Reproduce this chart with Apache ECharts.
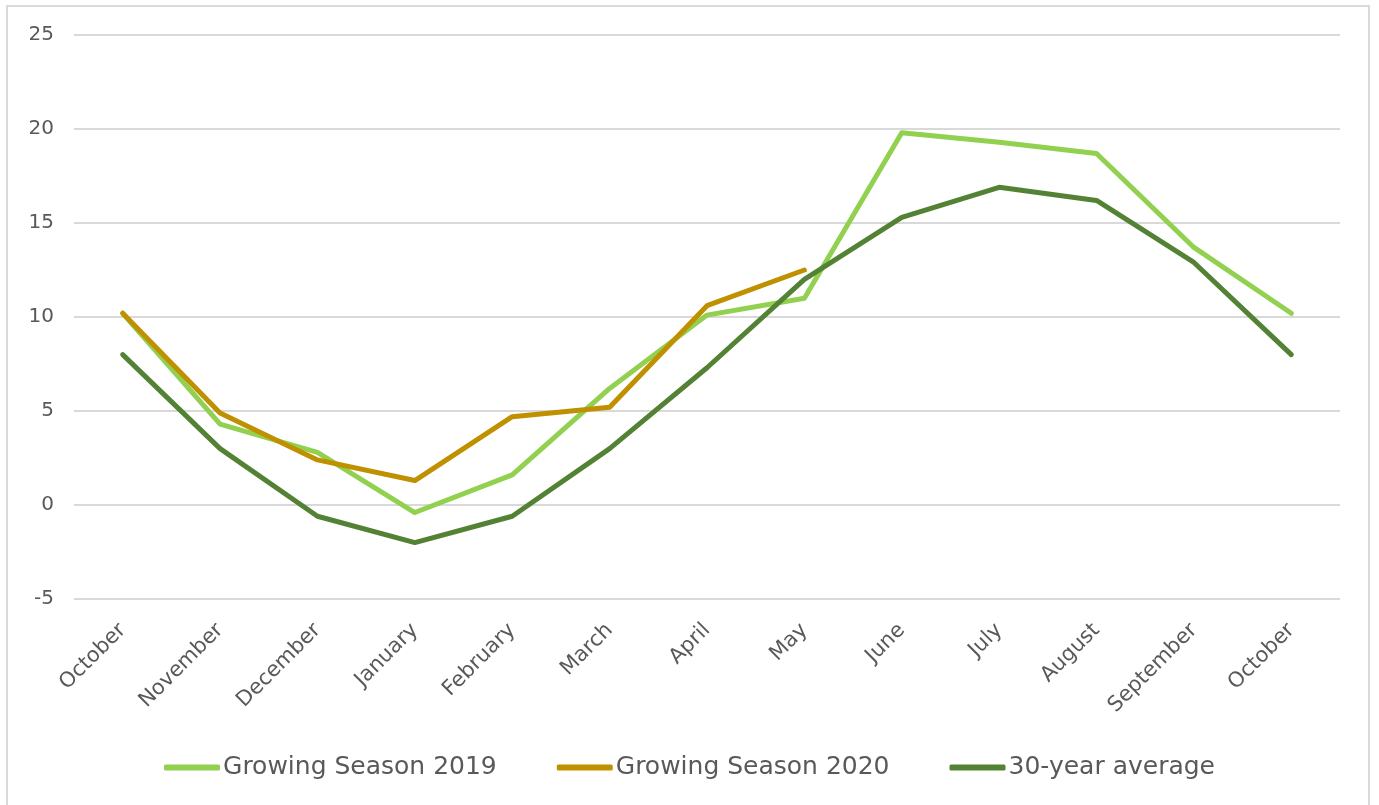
<!DOCTYPE html>
<html>
<head>
    <meta charset="utf-8">
    <title>growing season</title>
    <script src="https://cdn.jsdelivr.net/npm/echarts@6/dist/echarts.min.js"></script>
    <style>
        html, body { margin: 0; padding: 0; background: #fff; }
    </style>
</head>
<body>
    <div id="main" style="width: 1379px; height: 805px;"></div>
    <script type="text/javascript">
        var months = ['October', 'November', 'December', 'January', 'February', 'March', 'April',
            'May', 'June', 'July', 'August', 'September', 'October'];
        var season2019 = [10.2, 4.3, 2.8, -0.4, 1.6, 6.2, 10.1, 11.0, 19.8, 19.3, 18.7, 13.7, 10.2];
        var season2020 = [10.2, 4.9, 2.4, 1.3, 4.7, 5.2, 10.6, 12.5];
        var average30 = [8.0, 3.0, -0.6, -2.0, -0.6, 3.0, 7.3, 12.0, 15.3, 16.9, 16.2, 12.9, 8.0];

        var myChart = echarts.init(document.getElementById('main'));
        var textColor = '#595959';
        var font = 'DejaVu Sans';

        function lineSeries(name, data, color) {
            return {
                name: name,
                type: 'line',
                data: data,
                symbol: 'none',
                lineStyle: { width: 5, color: color, cap: 'round', join: 'round' },
                itemStyle: { color: color }
            };
        }

        var option = {
            backgroundColor: '#fff',
            animation: false,
            graphic: [{
                type: 'rect',
                shape: { x: 7, y: 6, width: 1362, height: 810 },
                style: { fill: 'none', stroke: '#d9d9d9', lineWidth: 2 }
            }],
            grid: { left: 74, right: 39, top: 35, bottom: 206 },
            legend: {
                bottom: 20,
                left: 'center',
                itemGap: 60,
                itemWidth: 56,
                itemHeight: 6,
                icon: 'roundRect',
                textStyle: { color: textColor, fontSize: 25, fontFamily: font, padding: [0, 0, 0, -2] },
                data: ['Growing Season 2019', 'Growing Season 2020', '30-year average']
            },
            xAxis: {
                type: 'category',
                data: months,
                boundaryGap: true,
                axisLine: { show: false },
                axisTick: { show: false },
                axisLabel: { rotate: 45, color: textColor, fontSize: 21, fontFamily: font, margin: 28, interval: 0 }
            },
            yAxis: {
                type: 'value',
                min: -5,
                max: 25,
                interval: 5,
                axisLine: { show: false },
                axisTick: { show: false },
                splitLine: { lineStyle: { color: '#d9d9d9', width: 2 } },
                axisLabel: { color: textColor, fontSize: 20, fontFamily: font, margin: 20 }
            },
            series: [
                lineSeries('Growing Season 2019', season2019, '#92d050'),
                lineSeries('Growing Season 2020', season2020, '#bf9000'),
                lineSeries('30-year average', average30, '#548235')
            ]
        };

        myChart.setOption(option);
    </script>
</body>
</html>
